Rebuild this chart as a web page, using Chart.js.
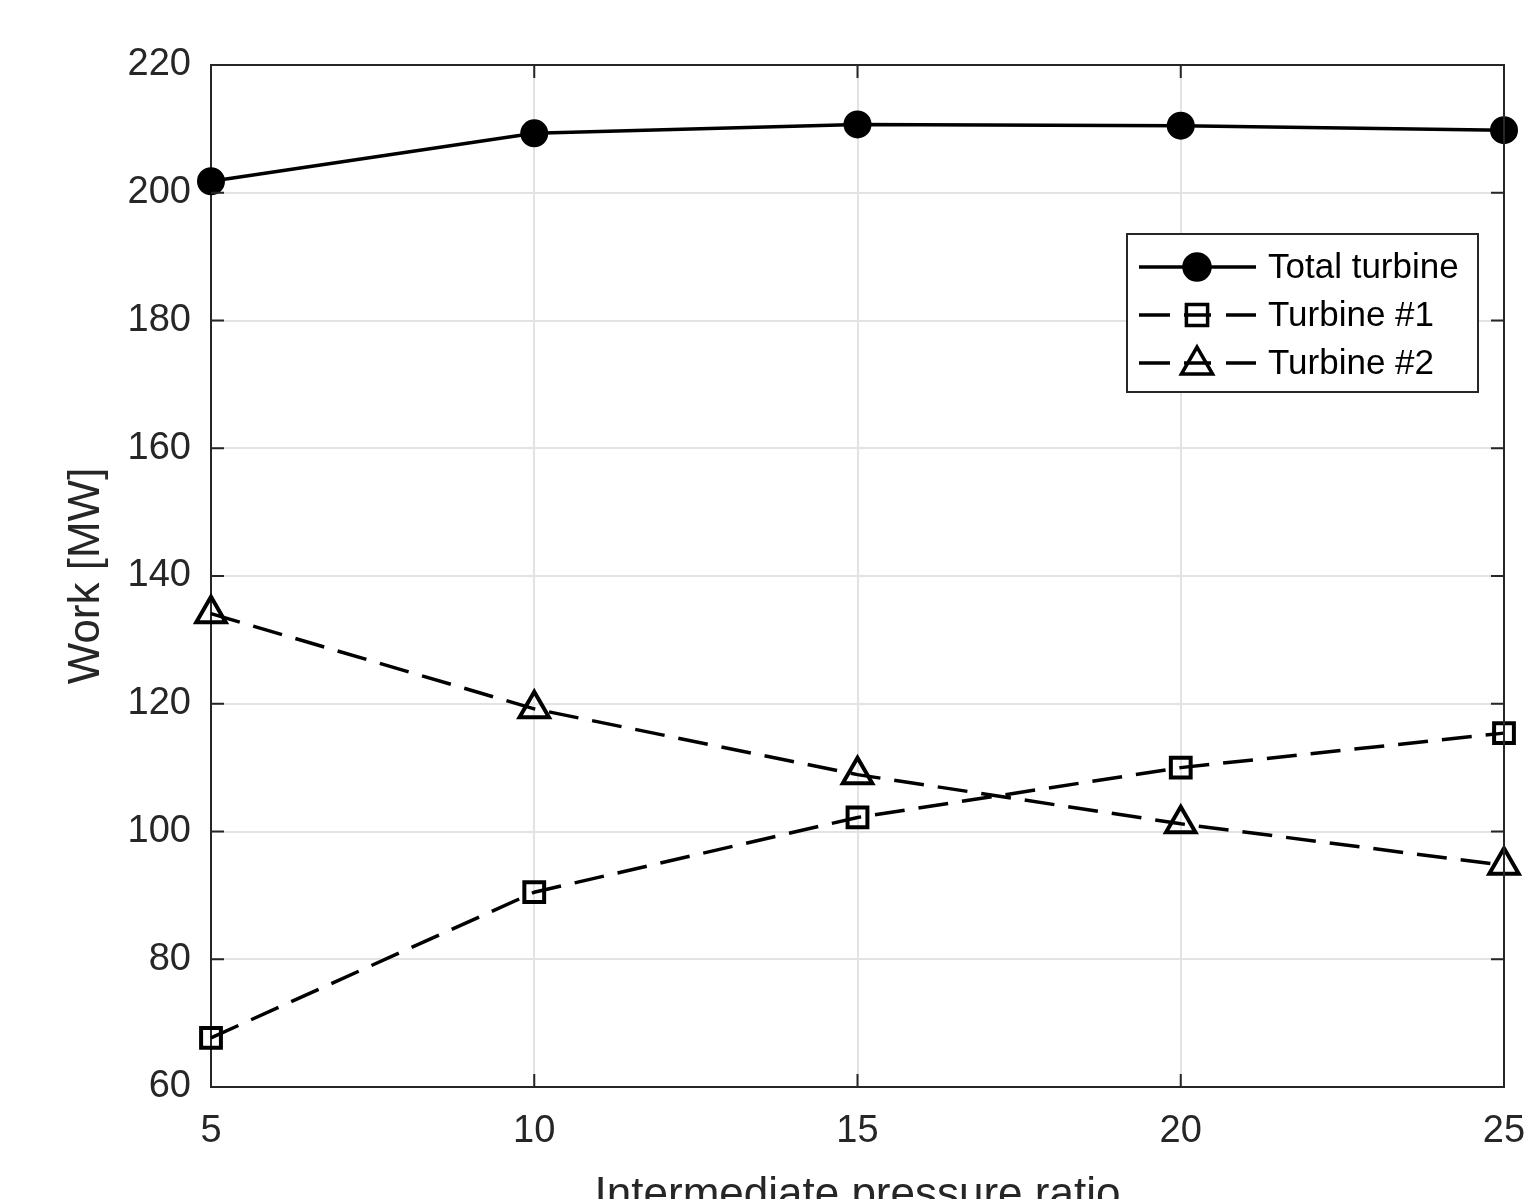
<!DOCTYPE html>
<html>
<head>
<meta charset="utf-8">
<script src="https://cdn.jsdelivr.net/npm/chart.js@4/dist/chart.umd.min.js"></script>
<style>
  html, body { margin: 0; padding: 0; background: #fff; overflow: hidden; }
  #wrap { width: 1525px; height: 1240px; }
</style>
</head>
<body>
<div id="wrap"><canvas id="workChart" width="1525" height="1240"></canvas></div>
<script>
// pressure ratio values on x
const ratios = [5, 10, 15, 20, 25];
// work in MW
const totalTurbine = [201.8, 209.3, 210.7, 210.5, 209.8];
const turbine1 = [67.7, 90.5, 102.2, 110.0, 115.4];
const turbine2 = [134.1, 119.2, 108.9, 101.2, 94.7];

const legendLabels = ['Total turbine', 'Turbine #1', 'Turbine #2'];
const axisColor = '#262626';
const fontFam = '"Liberation Sans", Arial, Helvetica, sans-serif';

function toPoints(ys) {
    return ratios.map((x, i) => ({ x: x, y: ys[i] }));
}

// top/right box lines and the inward tick marks (matlab style)
const boxTicks = {
    id: 'boxTicks',
    afterDatasetsDraw(chart) {
        const ctx = chart.ctx;
        const a = chart.chartArea;
        const xs = chart.scales.x, ys = chart.scales.y;
        const len = 13;
        ctx.save();
        ctx.strokeStyle = axisColor;
        ctx.lineWidth = 2;
        ctx.setLineDash([]);
        ctx.beginPath();
        ctx.moveTo(a.left, a.top); ctx.lineTo(a.right, a.top); ctx.lineTo(a.right, a.bottom);
        ctx.stroke();
        ctx.beginPath();
        xs.ticks.forEach(t => {
            const px = xs.getPixelForValue(t.value);
            ctx.moveTo(px, a.bottom); ctx.lineTo(px, a.bottom - len);
            ctx.moveTo(px, a.top); ctx.lineTo(px, a.top + len);
        });
        ys.ticks.forEach(t => {
            const py = ys.getPixelForValue(t.value);
            ctx.moveTo(a.left, py); ctx.lineTo(a.left + len, py);
            ctx.moveTo(a.right, py); ctx.lineTo(a.right - len, py);
        });
        ctx.stroke();
        ctx.restore();
    }
};

// legend box with line samples + markers
const boxLegend = {
    id: 'boxLegend',
    afterDraw(chart) {
        const ctx = chart.ctx;
        const bx = 1127, by = 234, bw = 351, bh = 158;
        ctx.save();
        ctx.fillStyle = '#fff';
        ctx.fillRect(bx, by, bw, bh);
        ctx.strokeStyle = axisColor;
        ctx.lineWidth = 2;
        ctx.strokeRect(bx, by, bw, bh);
        const rowY = [267, 315, 363];
        chart.data.datasets.forEach((ds, i) => {
            const y = rowY[i];
            ctx.strokeStyle = '#000';
            ctx.lineWidth = 3.5;
            ctx.setLineDash([]);
            ctx.beginPath();
            if (ds.borderDash && ds.borderDash.length) {
                ctx.moveTo(1139, y); ctx.lineTo(1170, y);
                ctx.moveTo(1184, y); ctx.lineTo(1211, y);
                ctx.moveTo(1226, y); ctx.lineTo(1256, y);
            } else {
                ctx.moveTo(1139, y); ctx.lineTo(1256, y);
            }
            ctx.stroke();
            ctx.fillStyle = ds.pointBackgroundColor;
            ctx.strokeStyle = '#000';
            Chart.helpers.drawPoint(ctx, {
                pointStyle: ds.pointStyle,
                radius: ds.legendRadius,
                borderWidth: 4
            }, 1197, y + (ds.pointStyle === 'triangle' ? 2 : 0));
            ctx.fillStyle = '#000';
            ctx.font = '35px ' + fontFam;
            ctx.textBaseline = 'middle';
            ctx.textAlign = 'left';
            ctx.fillText(legendLabels[i], 1268, y + 1);
        });
        ctx.restore();
    }
};

const ctx = document.getElementById('workChart').getContext('2d');
const chart = new Chart(ctx, {
    type: 'line',
    data: {
        datasets: [{
            label: legendLabels[0],
            data: toPoints(totalTurbine),
            borderColor: '#000',
            backgroundColor: '#000',
            borderWidth: 3.5,
            pointStyle: 'circle',
            pointRadius: 12.5,
            pointBorderWidth: 3,
            pointBackgroundColor: '#000',
            pointBorderColor: '#000',
            legendRadius: 13,
            clip: false
        }, {
            label: legendLabels[1],
            data: toPoints(turbine1),
            borderColor: '#000',
            borderWidth: 3.5,
            borderDash: [30, 14],
            pointStyle: 'rect',
            pointRadius: 14,
            pointBorderWidth: 4,
            pointBackgroundColor: 'rgba(0,0,0,0)',
            pointBorderColor: '#000',
            legendRadius: 15,
            clip: false
        }, {
            label: legendLabels[2],
            data: toPoints(turbine2),
            borderColor: '#000',
            borderWidth: 3.5,
            borderDash: [30, 14],
            pointStyle: 'triangle',
            pointRadius: 17,
            pointBorderWidth: 4,
            pointBackgroundColor: 'rgba(0,0,0,0)',
            pointBorderColor: '#000',
            legendRadius: 18,
            clip: false
        }]
    },
    options: {
        responsive: false,
        animation: false,
        layout: { padding: { top: 65, right: 20, left: 0, bottom: 0 } },
        plugins: {
            legend: { display: false },
            tooltip: { enabled: false }
        },
        scales: {
            x: {
                type: 'linear',
                min: 5, max: 25,
                afterFit(scale) {
                    scale.height = 1240 - 1087;
                    scale.paddingLeft = 0;
                    scale.paddingRight = 0;
                },
                ticks: { stepSize: 5, color: axisColor, padding: 22, font: { family: fontFam, size: 38 } },
                grid: { color: '#e3e3e3', lineWidth: 2, drawTicks: false },
                border: { display: true, color: axisColor, width: 2 },
                title: {
                    display: true, text: 'Intermediate pressure ratio', color: axisColor,
                    font: { family: fontFam, size: 44 }, padding: { top: 0, bottom: 18 }
                }
            },
            y: {
                min: 60, max: 220,
                afterFit(scale) { scale.width = 211; },
                ticks: { stepSize: 20, color: axisColor, padding: 20, font: { family: fontFam, size: 38 } },
                grid: { color: '#e3e3e3', lineWidth: 2, drawTicks: false },
                border: { display: true, color: axisColor, width: 2 },
                title: {
                    display: true, text: 'Work [MW]', color: axisColor,
                    font: { family: fontFam, size: 44 }, padding: { top: 60, bottom: 0 }
                }
            }
        }
    },
    plugins: [boxTicks, boxLegend]
});
</script>
</body>
</html>
